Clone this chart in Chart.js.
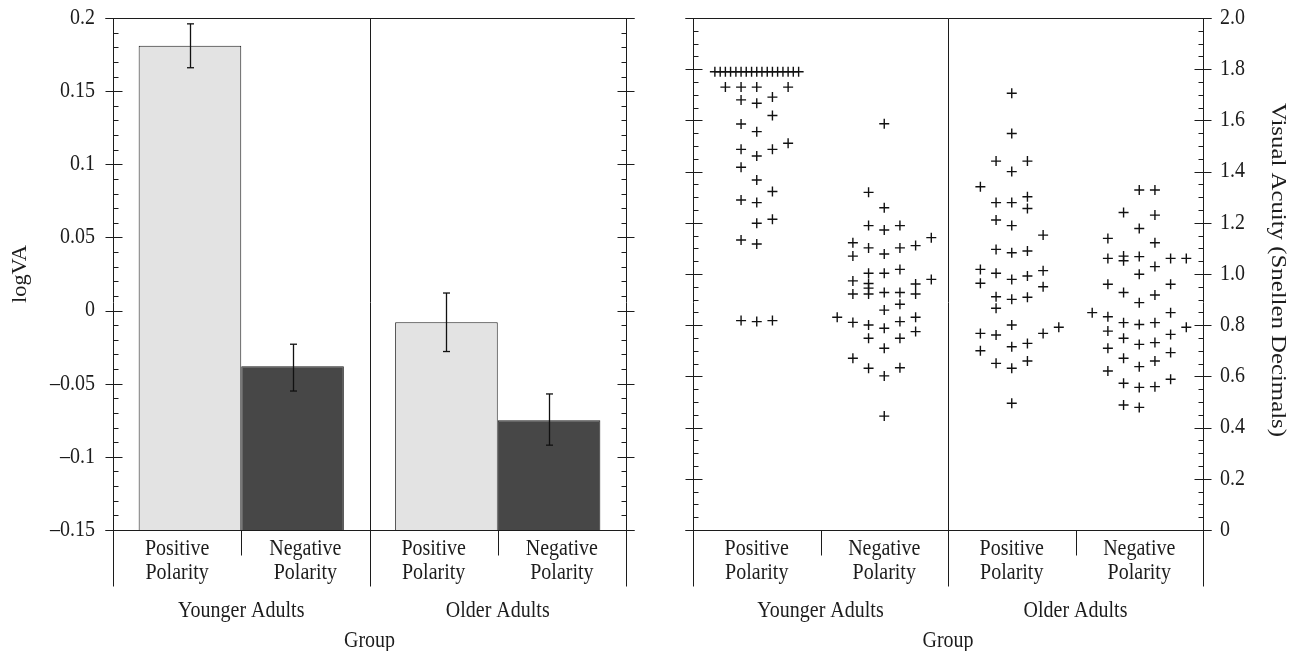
<!DOCTYPE html>
<html>
<head>
<meta charset="utf-8">
<script src="https://cdn.jsdelivr.net/npm/chart.js@4.4.0/dist/chart.umd.min.js"></script>
<style>
  body { margin: 0; background: #fff; }
  #wrap { position: relative; width: 1294px; height: 651px; }
  #logva-chart { position: absolute; left: 0; top: 0; }
  #acuity-chart { position: absolute; left: 647px; top: 0; }
</style>
</head>
<body>
<div id="wrap">
  <canvas id="logva-chart" width="647" height="651"></canvas>
  <canvas id="acuity-chart" width="647" height="651"></canvas>
</div>
<script>
// groups and conditions
const groupNames = ['Younger Adults', 'Older Adults'];
const conditionNames = [['Positive', 'Polarity'], ['Negative', 'Polarity']];

// left panel: mean logVA per group, with error bar ends
const positiveMean = [0.181, -0.008];
const negativeMean = [-0.038, -0.075];
const positiveLow = [0.166, -0.028];
const positiveHigh = [0.196, 0.012];
const negativeLow = [-0.055, -0.092];
const negativeHigh = [-0.023, -0.057];

const logTicks = [0.2, 0.15, 0.1, 0.05, 0, -0.05, -0.1, -0.15];
const logTickLabels = ['0.2', '0.15', '0.1', '0.05', '0', '–0.05', '–0.1', '–0.15'];

const acuityTicks = [2.0, 1.8, 1.6, 1.4, 1.2, 1.0, 0.8, 0.6, 0.4, 0.2, 0];
const acuityTickLabels = ['2.0', '1.8', '1.6', '1.4', '1.2', '1.0', '0.8', '0.6', '0.4', '0.2', '0'];

// right panel: one + per participant. col = jitter slot inside its condition
const youngPosCol = [-2.67, -2.33, -2, -1.67, -1.33, -1, -0.67, -0.33, 0, 0.33, 0.67, 1, 1.33, 1.67, 2, 2.33, 2.67,
  -2, -1, -1, -1, -1, -1, -1, -1, -1, 0, 0, 0, 0, 0, 0, 0, 0, 0, 1, 1, 1, 1, 1, 1, 2, 2];
const youngPosVal = [1.79, 1.79, 1.79, 1.79, 1.79, 1.79, 1.79, 1.79, 1.79, 1.79, 1.79, 1.79, 1.79, 1.79, 1.79, 1.79, 1.79,
  1.730, 1.730, 1.680, 1.586, 1.487, 1.417, 1.289, 1.133, 0.818,
  1.730, 1.667, 1.556, 1.461, 1.367, 1.279, 1.198, 1.117, 0.814,
  1.691, 1.619, 1.487, 1.322, 1.214, 0.818, 1.730, 1.511];

const youngNegCol = [-3, -2, -2, -2, -2, -2, -2, -1, -1, -1, -1, -1, -1, -1, -1, -1, -1,
  0, 0, 0, 0, 0, 0, 0, 0, 0, 0, 0, 1, 1, 1, 1, 1, 1, 1, 1, 2, 2, 2, 2, 2, 3, 3];
const youngNegVal = [0.831, 1.122, 1.070, 0.973, 0.922, 0.811, 0.671,
  1.319, 1.189, 1.102, 1.003, 0.963, 0.945, 0.922, 0.801, 0.749, 0.632,
  1.587, 1.259, 1.172, 1.078, 1.003, 0.928, 0.859, 0.788, 0.710, 0.602, 0.445,
  1.189, 1.102, 1.018, 0.928, 0.882, 0.814, 0.749, 0.634,
  1.111, 0.961, 0.922, 0.831, 0.775, 1.142, 0.979];

const olderPosCol = [-2, -2, -2, -2, -2, -1, -1, -1, -1, -1, -1, -1, -1, -1,
  0, 0, 0, 0, 0, 0, 0, 0, 0, 0, 0, 0, 1, 1, 1, 1, 1, 1, 1, 1, 2, 2, 2, 2, 3];
const olderPosVal = [1.341, 1.018, 0.964, 0.768, 0.700,
  1.441, 1.279, 1.211, 1.096, 1.003, 0.911, 0.866, 0.762, 0.651,
  1.706, 1.549, 1.400, 1.279, 1.189, 1.083, 0.979, 0.901, 0.801, 0.716, 0.632, 0.495,
  1.441, 1.302, 1.256, 1.090, 0.992, 0.909, 0.729, 0.660,
  1.152, 1.013, 0.950, 0.768, 0.792];

const olderNegCol = [-3, -2, -2, -2, -2, -2, -2, -2, -1, -1, -1, -1, -1, -1, -1, -1, -1,
  0, 0, 0, 0, 0, 0, 0, 0, 0, 0, 1, 1, 1, 1, 1, 1, 1, 1, 1, 2, 2, 2, 2, 2, 2, 3, 3];
const olderNegVal = [0.849, 1.139, 1.061, 0.960, 0.833, 0.777, 0.710, 0.621,
  1.240, 1.070, 1.052, 0.928, 0.810, 0.749, 0.671, 0.573, 0.488,
  1.328, 1.178, 1.068, 0.999, 0.888, 0.803, 0.725, 0.638, 0.557, 0.479,
  1.328, 1.230, 1.122, 1.029, 0.918, 0.810, 0.732, 0.660, 0.560,
  1.061, 0.960, 0.849, 0.764, 0.693, 0.589, 1.061, 0.792];

const ink = '#1c1c1c';
const fontFamily = '"Liberation Serif", "Times New Roman", serif';
const fontSize = 20;
const stretch = 1.12;
const colStep = 0.123;

function text(ctx, s, x, y, align, angle, along) {
  ctx.save();
  ctx.translate(x, y);
  if (angle) {
    ctx.rotate(angle);
    ctx.scale(along || stretch, 1);
  } else {
    ctx.scale(1, stretch);
  }
  ctx.font = fontSize + 'px ' + fontFamily;
  ctx.fillStyle = ink;
  ctx.textAlign = align;
  ctx.textBaseline = 'middle';
  ctx.fillText(s, 0, 0);
  ctx.restore();
}

function line(ctx, x1, y1, x2, y2) {
  ctx.beginPath();
  ctx.moveTo(x1, y1);
  ctx.lineTo(x2, y2);
  ctx.stroke();
}

// axes, ticks and category labels drawn by hand (the figure style is not Chart.js's own)
function drawFrame(chart, o) {
  const ctx = chart.ctx;
  const a = chart.chartArea;
  const y = chart.scales.y;
  const L = Math.round(a.left) + 0.5, R = Math.round(a.right) + 0.5;
  const T = Math.round(a.top) + 0.5, B = Math.round(a.bottom) + 0.5;
  const M = Math.round((a.left + a.right) / 2) + 0.5;
  const Q = (a.right - a.left) / 4;
  ctx.save();
  ctx.strokeStyle = ink;
  ctx.lineWidth = 1;
  line(ctx, L, T, L, B + 56);
  line(ctx, R, T, R, B + 56);
  line(ctx, M, T, M, B + 56);
  line(ctx, L - 8, T, R + 8, T);
  line(ctx, L - 8, B, R + 8, B);
  line(ctx, Math.round(a.left + Q) + 0.5, B, Math.round(a.left + Q) + 0.5, B + 25);
  line(ctx, Math.round(a.left + 3 * Q) + 0.5, B, Math.round(a.left + 3 * Q) + 0.5, B + 25);

  const n = Math.round((o.max - o.min) / o.minor);
  for (let i = 0; i <= n; i++) {
    const v = o.min + i * o.minor;
    const py = Math.round(y.getPixelForValue(v)) + 0.5;
    if (i % o.perMajor === 0) {
      line(ctx, L - 8, py, L + 9, py);
      line(ctx, R - 9, py, R + 8, py);
    } else {
      line(ctx, L, py, L + 5, py);
      line(ctx, R - 5, py, R, py);
    }
  }
  o.ticks.forEach((v, i) => {
    const py = y.getPixelForValue(v);
    if (o.labelSide === 'left') text(ctx, o.tickLabels[i], a.left - 18, py, 'right');
    else text(ctx, o.tickLabels[i], a.right + 17, py, 'left');
  });

  for (let g = 0; g < 2; g++) {
    for (let c = 0; c < 2; c++) {
      const cx = a.left + Q * (g * 2 + c + 0.5);
      text(ctx, conditionNames[c][0], cx, B + 19, 'center');
      text(ctx, conditionNames[c][1], cx, B + 43, 'center');
    }
    text(ctx, groupNames[g], a.left + Q * (g * 2 + 1), B + 81, 'center');
  }
  text(ctx, 'Group', (a.left + a.right) / 2, B + 111, 'center');

  const cy = (a.top + a.bottom) / 2;
  if (o.labelSide === 'left') text(ctx, o.title, 21, cy, 'center', -Math.PI / 2);
  else text(ctx, o.title, chart.width - 17, cy - 4, 'center', Math.PI / 2, 1.24);
  ctx.restore();
}

const errorBars = {
  id: 'errorBars',
  afterDatasetsDraw(chart) {
    const ctx = chart.ctx;
    const y = chart.scales.y;
    const lows = [positiveLow, negativeLow];
    const highs = [positiveHigh, negativeHigh];
    ctx.save();
    ctx.strokeStyle = '#111';
    ctx.lineWidth = 1.3;
    for (let d = 0; d < 2; d++) {
      chart.getDatasetMeta(d).data.forEach((bar, i) => {
        const x = Math.round(bar.x) + 0.5;
        const y1 = y.getPixelForValue(lows[d][i]);
        const y2 = y.getPixelForValue(highs[d][i]);
        line(ctx, x, y1, x, y2);
        line(ctx, x - 3.5, y1, x + 3.5, y1);
        line(ctx, x - 3.5, y2, x + 3.5, y2);
      });
    }
    ctx.restore();
  }
};

const logFrame = {
  id: 'logFrame',
  afterDraw(chart) {
    drawFrame(chart, { min: -0.15, max: 0.2, minor: 0.01, perMajor: 5, ticks: logTicks,
      tickLabels: logTickLabels, labelSide: 'left', title: 'logVA' });
  }
};

const acuityFrame = {
  id: 'acuityFrame',
  afterDraw(chart) {
    drawFrame(chart, { min: 0, max: 2, minor: 0.05, perMajor: 4, ticks: acuityTicks,
      tickLabels: acuityTickLabels, labelSide: 'right', title: 'Visual Acuity (Snellen Decimals)' });
  }
};

// left chart: bars
let logvaCanvas = document.getElementById('logva-chart');
let logvaChart = new Chart(logvaCanvas, {
  type: 'bar',
  data: {
    labels: groupNames,
    datasets: [{
      label: 'Positive Polarity',
      data: positiveMean,
      backgroundColor: '#e3e3e3',
      borderColor: '#1c1c1c',
      borderWidth: 1
    }, {
      label: 'Negative Polarity',
      data: negativeMean,
      backgroundColor: '#474747',
      borderColor: '#1c1c1c',
      borderWidth: 1
    }]
  },
  options: {
    responsive: false,
    animation: false,
    layout: { padding: { left: 113, right: 21, top: 18, bottom: 121 } },
    datasets: { bar: { categoryPercentage: 0.8, barPercentage: 1.0, base: -0.15 } },
    plugins: { legend: { display: false }, tooltip: { enabled: false } },
    scales: {
      x: { display: false },
      y: { display: false, min: -0.15, max: 0.2 }
    }
  },
  plugins: [errorBars, logFrame]
});

// right chart: individual acuity values
function points(cols, vals, slot) {
  return vals.map((v, i) => ({ x: slot + 0.5 + cols[i] * colStep, y: v }));
}

let acuityCanvas = document.getElementById('acuity-chart');
let acuityChart = new Chart(acuityCanvas, {
  type: 'scatter',
  data: {
    datasets: [
      { data: points(youngPosCol, youngPosVal, 0) },
      { data: points(youngNegCol, youngNegVal, 1) },
      { data: points(olderPosCol, olderPosVal, 2) },
      { data: points(olderNegCol, olderNegVal, 3) }
    ]
  },
  options: {
    responsive: false,
    animation: false,
    layout: { padding: { left: 46, right: 91, top: 18, bottom: 121 } },
    elements: { point: { pointStyle: 'cross', radius: 5, borderWidth: 1.4, borderColor: '#111' } },
    plugins: { legend: { display: false }, tooltip: { enabled: false } },
    scales: {
      x: { display: false, type: 'linear', min: 0, max: 4 },
      y: { display: false, min: 0, max: 2 }
    }
  },
  plugins: [acuityFrame]
});
</script>
</body>
</html>
